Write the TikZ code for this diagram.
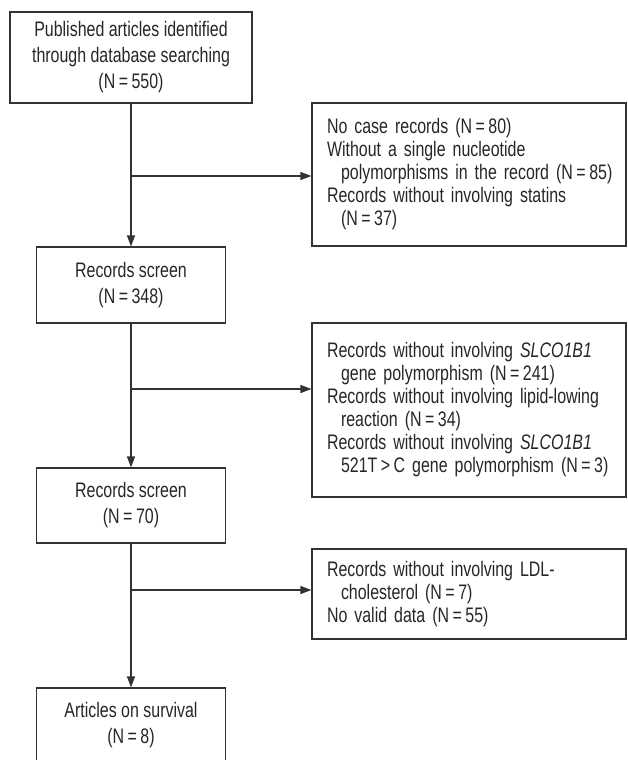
\documentclass[tikz,border=0pt]{standalone}
\usepackage{fontspec}
\setmainfont{Liberation Sans}[FakeStretch=0.76]
\usetikzlibrary{arrows.meta}

\begin{document}
\begin{tikzpicture}[x=1pt, y=-1pt, line width=1.1pt,
		box/.style={draw=black!80, text=black!85, align=center, inner sep=0pt,
			minimum width=189pt, font=\fontsize{21}{26}\selectfont},
		exbox/.style={draw=black!80, text=black!85, align=left, inner xsep=15pt, inner ysep=0pt,
			text width=284pt, font=\fontsize{21}{23}\selectfont},
		flow/.style={draw=black!80, -{Triangle[length=11pt, width=8pt]}}]
		\useasboundingbox (0,0) rectangle (627,760);

		\node[box, minimum width=242pt, minimum height=91pt] (search) at (131,57.5)
			{Published articles identified\\through database searching\\(N\,=\,550)};
		\node[exbox, minimum height=143pt] (excl1) at (469,174.5)
			{No case records (N\,=\,80)\\
			Without a single nucleotide\\
			\mbox{\hspace*{14pt}polymorphisms in the record (N\,=\,85)}\\
			Records without involving statins\\
			\hspace*{14pt}(N\,=\,37)};
		\node[box, minimum height=76pt] (screen1) at (131,285) {Records screen\\(N\,=\,348)};
		\node[exbox, minimum height=174pt] (excl2) at (469,410)
			{Records without involving \textit{SLCO1B1}\\
			\hspace*{14pt}gene polymorphism (N\,=\,241)\\
			Records without involving lipid-lowing\\
			\hspace*{14pt}reaction (N\,=\,34)\\
			Records without involving \textit{SLCO1B1}\\
			\mbox{\hspace*{14pt}521T\,>\,C gene polymorphism (N\,=\,3)}};
		\node[box, minimum height=75pt] (screen2) at (131,505.5) {Records screen\\(N\,=\,70)};
		\node[exbox, minimum height=90pt] (excl3) at (469,594)
			{Records without involving LDL-\\
			\hspace*{14pt}cholesterol (N\,=\,7)\\
			No valid data (N\,=\,55)};
		\node[box, minimum height=74pt] (survival) at (131,725) {Articles on survival\\(N\,=\,8)};

		\coordinate (j1) at (131,176);
		\coordinate (j2) at (131,389);
		\coordinate (j3) at (131,590);

		\draw[flow] (search) -- (screen1);
		\draw[flow] (screen1) -- (screen2);
		\draw[flow] (screen2) -- (survival);
		\draw[flow] (j1) -- (j1 -| excl1.west);
		\draw[flow] (j2) -- (j2 -| excl2.west);
		\draw[flow] (j3) -- (j3 -| excl3.west);
	\end{tikzpicture}
\end{document}
